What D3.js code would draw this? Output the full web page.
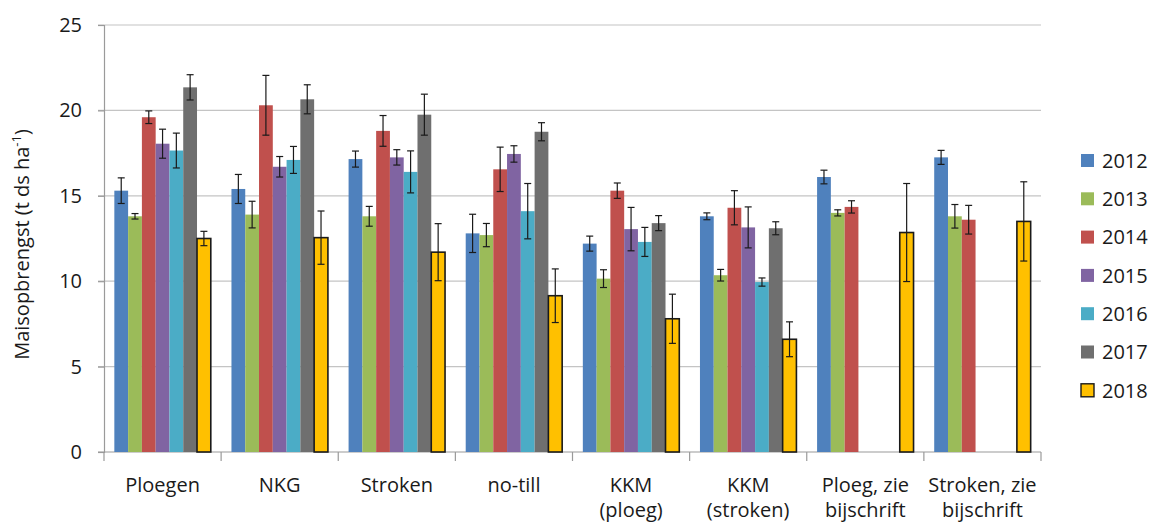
<!DOCTYPE html>
<html>
<head>
<meta charset="utf-8">
<script src="https://cdn.jsdelivr.net/npm/d3@7"></script>
<style>
  html, body { margin: 0; padding: 0; background: #fff; }
  svg text { font-family: "Open Sans", "Noto Sans", sans-serif; fill: #1a1a1a; }
</style>
</head>
<body>
<svg id="chart" width="1150" height="523"></svg>
<script>
// Maize yield per tillage treatment, 2012–2018 (mean ± error)
const categories = ["Ploegen", "NKG", "Stroken", "no-till", "KKM (ploeg)", "KKM (stroken)", "Ploeg, zie bijschrift", "Stroken, zie bijschrift"];
const categoryLines = [["Ploegen"], ["NKG"], ["Stroken"], ["no-till"], ["KKM", "(ploeg)"], ["KKM", "(stroken)"], ["Ploeg, zie", "bijschrift"], ["Stroken, zie", "bijschrift"]];
const years = ["2012", "2013", "2014", "2015", "2016", "2017", "2018"];

const y2012 = [15.3, 15.4, 17.15, 12.8, 12.2, 13.8, 16.1, 17.25];
const y2013 = [13.8, 13.9, 13.8, 12.7, 10.15, 10.35, 14.0, 13.8];
const y2014 = [19.6, 20.3, 18.8, 16.55, 15.3, 14.3, 14.35, 13.6];
const y2015 = [18.05, 16.7, 17.25, 17.45, 13.05, 13.15, null, null];
const y2016 = [17.65, 17.1, 16.4, 14.1, 12.3, 9.95, null, null];
const y2017 = [21.35, 20.65, 19.75, 18.75, 13.4, 13.1, null, null];
const y2018 = [12.5, 12.55, 11.7, 9.15, 7.8, 6.6, 12.85, 13.5];

const e2012 = [0.75, 0.85, 0.47, 1.12, 0.44, 0.2, 0.4, 0.41];
const e2013 = [0.16, 0.78, 0.58, 0.68, 0.52, 0.34, 0.18, 0.69];
const e2014 = [0.37, 1.75, 0.9, 1.3, 0.45, 1.0, 0.36, 0.84];
const e2015 = [0.85, 0.6, 0.45, 0.48, 1.27, 1.2, null, null];
const e2016 = [1.02, 0.79, 1.23, 1.62, 0.85, 0.24, null, null];
const e2017 = [0.74, 0.85, 1.2, 0.53, 0.44, 0.38, null, null];
const e2018 = [0.42, 1.56, 1.67, 1.57, 1.44, 1.02, 2.87, 2.32];

const yTicks = [0, 5, 10, 15, 20, 25];

const seriesValues = [y2012, y2013, y2014, y2015, y2016, y2017, y2018];
const seriesErrors = [e2012, e2013, e2014, e2015, e2016, e2017, e2018];
const colors = ["#4f81bd", "#9bbb59", "#c0504d", "#8064a2", "#4bacc6", "#6f6f6f", "#ffc000"];

const svg = d3.select("#chart");
const plot = { left: 104, right: 1041, top: 25, bottom: 452 };

const x0 = d3.scaleBand().domain(categories).range([plot.left, plot.right]).paddingInner(0).paddingOuter(0);
const x1 = d3.scaleBand().domain(years).range([0, x0.bandwidth()]).paddingInner(0).paddingOuter(0.75);
const y = d3.scaleLinear().domain([0, 25]).range([plot.bottom, plot.top]);

// horizontal gridlines (including the short tick stubs left of the axis)
svg.append("g").selectAll("line").data(yTicks.filter(t => t > 0)).join("line")
  .attr("x1", plot.left - 6).attr("x2", plot.right)
  .attr("y1", d => y(d)).attr("y2", d => y(d))
  .attr("stroke", "#c4c4c4").attr("stroke-width", 1.2);

// y axis
const yAxis = svg.append("g").attr("transform", `translate(${plot.left},0)`)
  .call(d3.axisLeft(y).tickValues(yTicks).tickSize(6).tickPadding(16));
yAxis.select(".domain").attr("stroke", "#9a9a9a").attr("stroke-width", 1.2);
yAxis.selectAll(".tick line").attr("stroke", "#9a9a9a").attr("stroke-width", 1.2);
yAxis.selectAll(".tick text").attr("font-size", 20).style("font-family", "'Open Sans', sans-serif").attr("fill", "#1a1a1a");

// x axis baseline and category separators
svg.append("line").attr("x1", plot.left - 6).attr("x2", plot.right)
  .attr("y1", plot.bottom).attr("y2", plot.bottom)
  .attr("stroke", "#9a9a9a").attr("stroke-width", 1.2);
const boundaries = categories.map(c => x0(c)).concat([plot.right]);
svg.append("g").selectAll("line").data(boundaries).join("line")
  .attr("x1", d => d).attr("x2", d => d)
  .attr("y1", plot.bottom).attr("y2", plot.bottom + 9)
  .attr("stroke", "#9a9a9a").attr("stroke-width", 1.2);

// bars
const bars = [];
years.forEach((yr, si) => {
  categories.forEach((cat, ci) => {
    const v = seriesValues[si][ci];
    if (v == null) return;
    bars.push({ yr, si, cat, v, err: seriesErrors[si][ci] });
  });
});

svg.append("g").selectAll("rect").data(bars).join("rect")
  .attr("x", d => x0(d.cat) + x1(d.yr))
  .attr("y", d => y(d.v))
  .attr("width", x1.bandwidth())
  .attr("height", d => y(0) - y(d.v))
  .attr("fill", d => colors[d.si])
  .attr("stroke", d => d.yr === "2018" ? "#1a1a1a" : "none")
  .attr("stroke-width", 1.6);

// error bars
const eb = svg.append("g").attr("stroke", "#1a1a1a").attr("stroke-width", 1.2);
bars.filter(d => d.err != null).forEach(d => {
  const cx = x0(d.cat) + x1(d.yr) + x1.bandwidth() / 2;
  const hi = y(d.v + d.err), lo = y(d.v - d.err);
  eb.append("line").attr("x1", cx).attr("x2", cx).attr("y1", hi).attr("y2", lo);
  eb.append("line").attr("x1", cx - 3.5).attr("x2", cx + 3.5).attr("y1", hi).attr("y2", hi);
  eb.append("line").attr("x1", cx - 3.5).attr("x2", cx + 3.5).attr("y1", lo).attr("y2", lo);
});

// category labels
const xl = svg.append("g");
categories.forEach((cat, ci) => {
  const t = xl.append("text")
    .attr("x", x0(cat) + x0.bandwidth() / 2)
    .attr("y", 492)
    .attr("text-anchor", "middle")
    .attr("font-size", 20);
  categoryLines[ci].forEach((line, li) => {
    t.append("tspan").attr("x", x0(cat) + x0.bandwidth() / 2).attr("dy", li === 0 ? 0 : 24.5).text(line);
  });
});

// y axis title
const title = svg.append("text")
  .attr("transform", `translate(29,${(plot.top + plot.bottom) / 2 + 6}) rotate(-90)`)
  .attr("text-anchor", "middle")
  .attr("font-size", 20);
title.append("tspan").text("Maisopbrengst (t ds ha");
title.append("tspan").attr("font-size", 13).attr("dy", -8).text("-1");
title.append("tspan").attr("dy", 8).text(")");

// legend
const legend = svg.append("g");
years.forEach((yr, i) => {
  const cy = 160.5 + i * 38.3;
  legend.append("rect")
    .attr("x", 1081).attr("y", cy - 6.5).attr("width", 13).attr("height", 13)
    .attr("fill", colors[i])
    .attr("stroke", yr === "2018" ? "#1a1a1a" : "none").attr("stroke-width", 1.4);
  legend.append("text")
    .attr("x", 1102).attr("y", cy).attr("dy", "0.36em")
    .attr("font-size", 20).text(yr);
});
</script>
</body>
</html>
